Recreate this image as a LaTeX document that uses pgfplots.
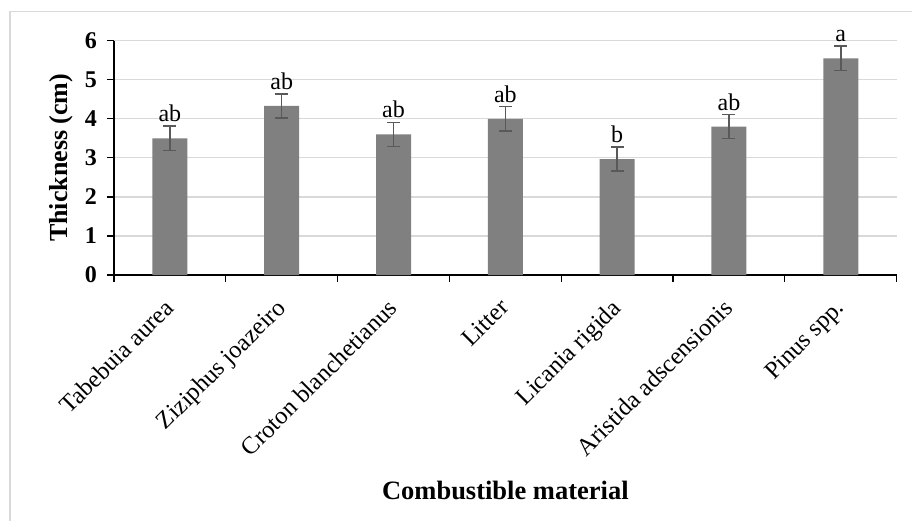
\documentclass[border=0pt]{standalone}
\usepackage{pgfplots}
\pgfplotsset{compat=1.18}
\usepackage{fontspec}
\setmainfont{Liberation Serif}
\definecolor{barcol}{HTML}{808080}
\definecolor{errcol}{HTML}{595959}
\definecolor{gridcol}{HTML}{D9D9D9}
\begin{document}
\begin{tikzpicture}[x=1pt,y=1pt]
\begin{axis}[
  at={(114pt,245pt)}, anchor=south west,
  scale only axis, width=782.7pt, height=234.3pt,
  xmin=0, xmax=7, ymin=0, ymax=6,
  axis lines*=left,
  axis line style={line width=1.2pt, black},
  xtick={0.5,1.5,2.5,3.5,4.5,5.5,6.5},
  xticklabels={Tabebuia aurea, Ziziphus joazeiro, Croton blanchetianus, Litter, Licania rigida, Aristida adscensionis, Pinus spp.},
  minor xtick={0,1,2,3,4,5,6,7},
  major x tick style={draw=none},
  minor x tick style={line width=1.2pt, black},
  minor tick length=7pt,
  x tick label style={xshift=-7pt, yshift=-14pt, rotate=45, anchor=north east, font=\fontsize{24.5}{24.5}\selectfont, inner sep=1pt},
  ytick={0,1,2,3,4,5,6},
  y tick style={line width=1.2pt, black},
  major tick length=7pt,
  tick align=outside,
  /pgf/number format/assume math mode=true,
  y tick label style={font=\fontsize{24}{24}\selectfont\bfseries, inner sep=2pt, xshift=-8pt},
  ymajorgrids, grid style={gridcol, line width=1.2pt},
  xlabel={Combustible material},
  ylabel={Thickness (cm)},
  xlabel style={at={(axis description cs:0.5,-0.918)}, anchor=center, font=\fontsize{26.5}{26.5}\selectfont\bfseries},
  ylabel style={at={(axis description cs:-0.0677,0.5)}, anchor=center, font=\fontsize{26}{26}\selectfont\bfseries},
  clip=false,
]
\addplot[ybar, bar width=35pt, fill=barcol, draw=none,
  error bars/.cd, y dir=both, y explicit,
  error bar style={line width=1.5pt, errcol},
  error mark options={rotate=90, mark size=6.5pt, line width=1.5pt, errcol}]
  coordinates {
  (0.5,3.50) +- (0,0.31)
  (1.5,4.33) +- (0,0.31)
  (2.5,3.60) +- (0,0.31)
  (3.5,4.00) +- (0,0.31)
  (4.5,2.97) +- (0,0.31)
  (5.5,3.80) +- (0,0.31)
  (6.5,5.55) +- (0,0.31)
  };
\addplot[draw=none, mark=none,
  nodes near coords, point meta=explicit symbolic,
  every node near coord/.style={anchor=south, inner sep=1pt, yshift=3pt, font=\fontsize{24}{24}\selectfont, text=black}]
  table[meta=lab] {
  x y lab
  0.5 3.81 ab
  1.5 4.64 ab
  2.5 3.91 ab
  3.5 4.31 ab
  4.5 3.28 b
  5.5 4.11 ab
  6.5 5.86 a
  };
\end{axis}
\draw[gridcol, line width=1.2pt] (10,-5) -- (10,508.3) -- (920,508.3);
\pgfresetboundingbox
\path (0,0) rectangle (912,520);
\end{tikzpicture}
\end{document}
